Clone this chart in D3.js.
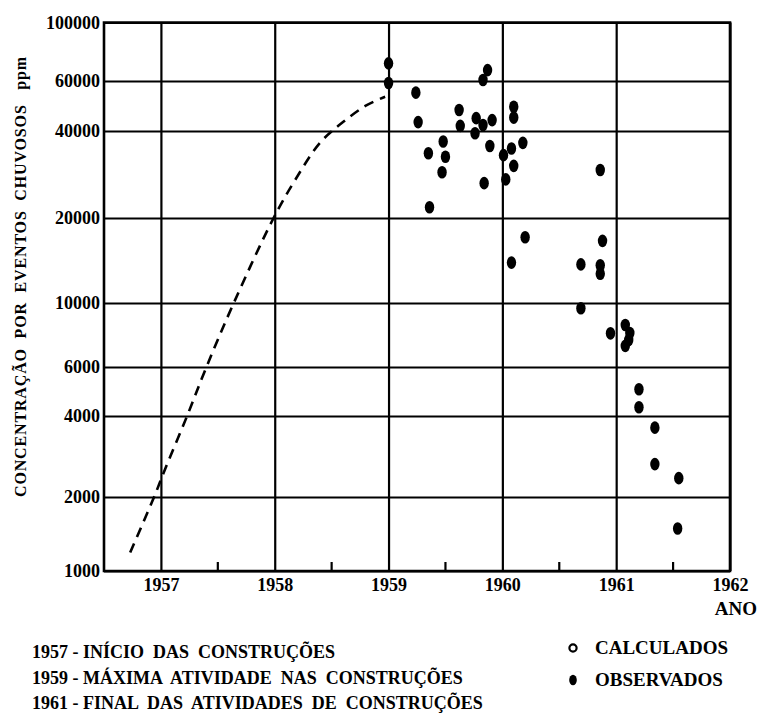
<!DOCTYPE html>
<html>
<head>
<meta charset="utf-8">
<script src="https://cdn.jsdelivr.net/npm/d3@7"></script>
<style>
  body { margin: 0; background: #fff; }
  svg text { font-family: "Liberation Serif", "Times New Roman", Times, "DejaVu Serif", serif; font-weight: bold; fill: #000; }
</style>
</head>
<body>
<script>
// ---- data ----
var years = [1957, 1958, 1959, 1960, 1961, 1962];
var halfYears = [1957.5, 1958.5, 1959.5, 1960.5, 1961.5];
var yTicks = [1000, 2000, 4000, 6000, 10000, 20000, 40000, 60000, 100000];

// calculated curve (dashed)
var calcYear  = [1956.73, 1956.94, 1957.04, 1957.23, 1957.40, 1957.64, 1957.99, 1958.18, 1958.40, 1958.60, 1958.80, 1958.97];
var calcValue = [1190, 2000, 2560, 4000, 6000, 10000, 20000, 27100, 36500, 43000, 49100, 52800];

// observed points
var obsYear = [1959.0, 1959.0, 1959.24, 1959.26, 1959.35, 1959.36, 1959.48, 1959.50, 1959.47, 1959.62,
               1959.63, 1959.77, 1959.76, 1959.83, 1959.91, 1959.83, 1959.87, 1959.89, 1959.84, 1960.01,
               1960.08, 1960.10, 1960.03, 1960.10, 1960.10, 1960.18, 1960.20, 1960.08, 1960.86, 1960.88,
               1960.69, 1960.86, 1960.86, 1960.69, 1960.95, 1961.08, 1961.12, 1961.11, 1961.08, 1961.20,
               1961.20, 1961.34, 1961.34, 1961.55, 1961.54];
var obsValue = [70000, 59000, 54600, 43000, 33500, 21800, 36800, 32600, 28800, 47400,
                41700, 44400, 39300, 42000, 43700, 60500, 66000, 35500, 26400, 33000,
                34800, 30300, 27200, 48700, 44600, 36400, 17100, 13900, 29300, 16600,
                13700, 13600, 12700, 9590, 7850, 8390, 7870, 7440, 7100, 4990,
                4300, 3620, 2650, 2350, 1490];

var notes = ["1957 - INÍCIO  DAS  CONSTRUÇÕES",
             "1959 - MÁXIMA  ATIVIDADE  NAS  CONSTRUÇÕES",
             "1961 - FINAL  DAS  ATIVIDADES  DE  CONSTRUÇÕES"];
var legendLabels = ["CALCULADOS", "OBSERVADOS"];

// ---- layout ----
var w = 773, h = 713;
var pl = 104, pr = 730, pt = 22.5, pb = 571;
// the paper grid is hand drawn, so the log axis is calibrated at each grid line
var yStops = [571, 497, 416, 367, 303, 218, 131, 81, 22.5];

var svg = d3.select("body").append("svg")
    .attr("width", w)
    .attr("height", h);

var x = d3.scaleLinear().domain([1956.5, 1962]).range([pl, pr]);
var y = d3.scaleLog().domain(yTicks).range(yStops);

// vertical grid + x labels
var gx = svg.append("g")
    .attr("transform", "translate(0," + pb + ")")
    .call(d3.axisBottom(x).tickValues(years).tickSize(-(pb - pt)).tickPadding(7).tickFormat(d3.format("d")));
gx.attr("font-family", null);
gx.select(".domain").remove();
gx.selectAll(".tick line").attr("stroke", "#000").attr("stroke-width", 2.2);
gx.selectAll(".tick text").attr("font-size", 18).attr("fill", "#000");

// horizontal grid + y labels
var gy = svg.append("g")
    .attr("transform", "translate(" + pl + ",0)")
    .call(d3.axisLeft(y).tickValues(yTicks).tickSize(-(pr - pl)).tickPadding(4).tickFormat(d3.format("d")));
gy.attr("font-family", null);
gy.select(".domain").remove();
gy.selectAll(".tick line").attr("stroke", "#000").attr("stroke-width", 2.2);
gy.selectAll(".tick text").attr("font-size", 18).attr("fill", "#000");

// frame
svg.append("path")
    .attr("d", "M" + pl + "," + pt + "V" + pb + "H" + pr + "V" + pt + "Z")
    .attr("fill", "none")
    .attr("stroke", "#000")
    .attr("stroke-width", 2.6);

// half-year ticks
svg.selectAll(".minor")
    .data(halfYears)
    .enter().append("line")
    .attr("class", "minor")
    .attr("x1", function (d) { return x(d); })
    .attr("x2", function (d) { return x(d); })
    .attr("y1", pb)
    .attr("y2", pb - 9)
    .attr("stroke", "#000")
    .attr("stroke-width", 2.2);

// calculated curve
var line = d3.line()
    .x(function (d, i) { return x(calcYear[i]); })
    .y(function (d) { return y(d); })
    .curve(d3.curveCatmullRom);

svg.append("path")
    .datum(calcValue)
    .attr("d", line)
    .attr("fill", "none")
    .attr("stroke", "#000")
    .attr("stroke-width", 2.6)
    .attr("stroke-dasharray", "10,7");

// observed points
svg.selectAll(".obs")
    .data(obsValue)
    .enter().append("ellipse")
    .attr("class", "obs")
    .attr("cx", function (d, i) { return x(obsYear[i]); })
    .attr("cy", function (d) { return y(d); })
    .attr("rx", 4.7)
    .attr("ry", 6.3)
    .attr("fill", "#000");

// axis titles
svg.append("text")
    .attr("x", 757)
    .attr("y", 615)
    .attr("text-anchor", "end")
    .attr("font-size", 19)
    .text("ANO");

svg.append("text")
    .attr("transform", "translate(26,277) rotate(-90)")
    .attr("text-anchor", "middle")
    .attr("font-size", 16)
    .attr("textLength", 440)
    .attr("lengthAdjust", "spacing")
    .style("white-space", "pre")
    .text("CONCENTRAÇÃO  POR  EVENTOS  CHUVOSOS   ppm");

// notes
svg.selectAll(".note")
    .data(notes)
    .enter().append("text")
    .attr("class", "note")
    .attr("x", 32)
    .attr("y", function (d, i) { return 658 + i * 25.5; })
    .attr("font-size", 18)
    .style("white-space", "pre")
    .text(function (d) { return d; });

// legend
var lg = svg.selectAll(".lg")
    .data(legendLabels)
    .enter().append("g")
    .attr("class", "lg")
    .attr("transform", function (d, i) { return "translate(573," + (648 + i * 32) + ")"; });

lg.append("ellipse")
    .attr("rx", function (d, i) { return i === 0 ? 3.6 : 3.8; })
    .attr("ry", function (d, i) { return i === 0 ? 3.6 : 5.2; })
    .attr("fill", function (d, i) { return i === 0 ? "#fff" : "#000"; })
    .attr("stroke", "#000")
    .attr("stroke-width", function (d, i) { return i === 0 ? 2.2 : 0; });

lg.append("text")
    .attr("x", 22)
    .attr("y", 6)
    .attr("font-size", 19)
    .text(function (d) { return d; });
</script>
</body>
</html>
